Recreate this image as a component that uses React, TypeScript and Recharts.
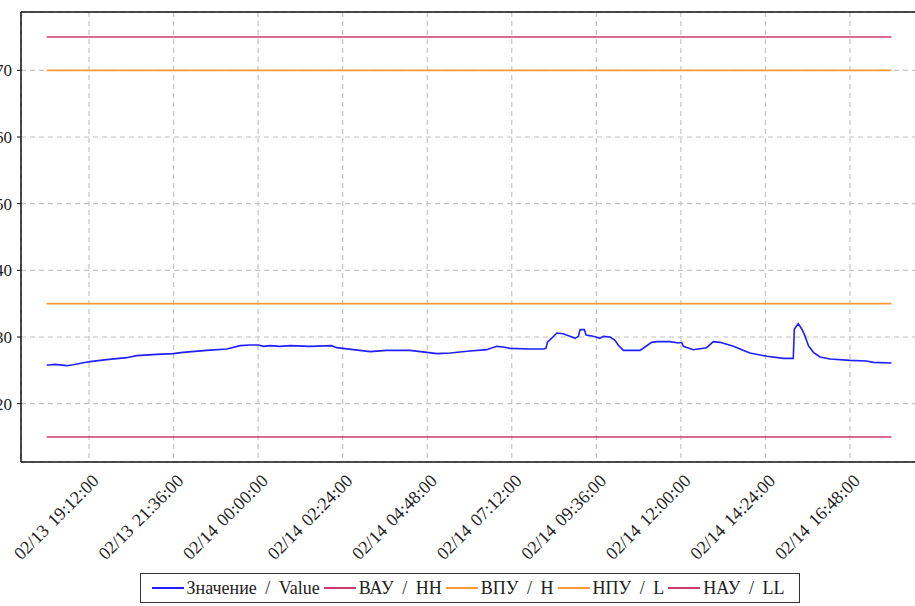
import { CartesianGrid, Line, LineChart, ReferenceLine, XAxis, YAxis } from 'recharts';

// hours since 02/13 00:00
const times = [
  18.0, 18.06, 18.23, 18.57, 18.75, 19.04, 19.23, 19.7, 20.27, 20.55, 21.12, 21.59, 21.87, 22.54,
  23.11, 23.49, 23.77, 24.01, 24.15, 24.34, 24.62, 24.91, 25.47, 26.09, 26.23, 26.7, 27.18, 27.65,
  28.31, 28.79, 29.07, 29.45, 30.01, 30.49, 30.77, 30.96, 31.15, 31.72, 32.1, 32.17, 32.21, 32.48,
  32.66, 32.85, 33.0, 33.09, 33.14, 33.26, 33.31, 33.51, 33.7, 33.8, 33.99, 34.13, 34.22, 34.37,
  34.84, 34.98, 35.17, 35.31, 35.69, 35.93, 36.02, 36.07, 36.35, 36.73, 36.92, 37.11, 37.49, 37.87,
  37.96, 38.44, 38.91, 39.19, 39.22, 39.33, 39.43, 39.52, 39.62, 39.76, 39.95, 40.23, 40.8, 41.27,
  41.46, 41.98,
];
const values = [
  25.8, 25.8, 25.9, 25.7, 25.85, 26.15, 26.3, 26.6, 26.9, 27.2, 27.4, 27.5, 27.7, 28.0,
  28.2, 28.7, 28.8, 28.8, 28.6, 28.7, 28.6, 28.7, 28.6, 28.7, 28.4, 28.1, 27.8, 28.0,
  28.0, 27.7, 27.5, 27.6, 27.9, 28.1, 28.6, 28.5, 28.3, 28.2, 28.2, 28.3, 29.2, 30.6,
  30.5, 30.1, 29.8, 30.1, 31.1, 31.1, 30.3, 30.1, 29.8, 30.1, 30.0, 29.5, 28.8, 28.0,
  28.0, 28.5, 29.2, 29.3, 29.3, 29.1, 29.2, 28.6, 28.1, 28.4, 29.3, 29.2, 28.6, 27.8,
  27.6, 27.1, 26.8, 26.8, 31.2, 32.0, 31.2, 30.2, 28.7, 27.7, 27.0, 26.7, 26.5, 26.4,
  26.2, 26.1,
];

const limitHH = 75;
const limitH = 70;
const limitL = 35;
const limitLL = 15;

const xTicks = [19.2, 21.6, 24, 26.4, 28.8, 31.2, 33.6, 36, 38.4, 40.8];
const yTicks = [20, 30, 40, 50, 60, 70];

const legendItems = [
  { label: 'Значение / Value', color: '#1f1fff' },
  { label: 'ВАУ / НН', color: '#cf3a6c' },
  { label: 'ВПУ / Н', color: '#f89a36' },
  { label: 'НПУ / L', color: '#f89a36' },
  { label: 'НАУ / LL', color: '#cf3a6c' },
];

const rows = times.map((t, i) => ({
  t,
  value: values[i],
  hh: limitHH,
  h: limitH,
  l: limitL,
  ll: limitLL,
}));

const FONT = '"Liberation Serif", "DejaVu Serif", serif';
const X_MIN = 17.27;
const X_MAX = 42.73;
const Y_MIN = 11.25;
const Y_MAX = 78.75;

function pad(n: number) {
  return n < 10 ? '0' + n : String(n);
}

function fmtTime(h: number): string {
  const mins = Math.round(h * 60);
  const day = 13 + Math.floor(mins / 1440);
  const rem = mins % 1440;
  return `02/${day} ${pad(Math.floor(rem / 60))}:${pad(rem % 60)}:00`;
}

function TimeTick(props: any) {
  const { x, y, payload } = props;
  return (
    <g transform={`translate(${x + 11},${y + 20})`}>
      <text
        textAnchor="end"
        transform="rotate(-45)"
        fontSize={18}
        fontFamily={FONT}
        wordSpacing={2}
        fill="#222"
      >
        {fmtTime(payload.value)}
      </text>
    </g>
  );
}

export default function App() {
  return (
    <div
      style={{
        position: 'fixed',
        left: 0,
        top: 0,
        width: 915,
        height: 606,
        overflow: 'hidden',
        background: '#fff',
      }}
    >
      <div style={{ position: 'absolute', left: -19, top: 0 }}>
        <LineChart width={937} height={572} data={rows} margin={{ top: 12, right: 0, bottom: 0, left: 0 }}>
          <CartesianGrid stroke="#c4c4c4" strokeDasharray="5 4" strokeWidth={1.2} />
          <XAxis
            dataKey="t"
            type="number"
            domain={[X_MIN, X_MAX]}
            ticks={xTicks}
            height={110}
            tickSize={0}
            tickMargin={0}
            tick={<TimeTick />}
            axisLine={{ stroke: '#111', strokeWidth: 1.5 }}
            allowDataOverflow
          />
          <YAxis
            type="number"
            domain={[Y_MIN, Y_MAX]}
            ticks={yTicks}
            width={40}
            tickSize={4}
            tickMargin={5}
            tick={{ fontSize: 17, fontFamily: FONT, fill: '#222' }}
            tickLine={{ stroke: '#111' }}
            axisLine={{ stroke: '#111', strokeWidth: 1.5 }}
            allowDataOverflow
          />
          <ReferenceLine y={Y_MAX} stroke="#111" strokeWidth={1.5} />
          <ReferenceLine x={X_MAX} stroke="#111" strokeWidth={1.5} />
          <Line dataKey="hh" stroke={legendItems[1].color} strokeWidth={1.6} dot={false} isAnimationActive={false} />
          <Line dataKey="h" stroke={legendItems[2].color} strokeWidth={1.6} dot={false} isAnimationActive={false} />
          <Line dataKey="l" stroke={legendItems[3].color} strokeWidth={1.6} dot={false} isAnimationActive={false} />
          <Line dataKey="ll" stroke={legendItems[4].color} strokeWidth={1.6} dot={false} isAnimationActive={false} />
          <Line
            dataKey="value"
            type="linear"
            stroke={legendItems[0].color}
            strokeWidth={1.6}
            dot={false}
            isAnimationActive={false}
          />
        </LineChart>
      </div>
      <div
        style={{
          position: 'absolute',
          left: 140,
          top: 573,
          width: 660,
          height: 30,
          boxSizing: 'border-box',
          border: '1px solid #333',
          display: 'flex',
          alignItems: 'center',
          justifyContent: 'center',
          fontFamily: FONT,
          fontSize: 18,
          wordSpacing: 4,
          color: '#222',
          whiteSpace: 'nowrap',
          background: '#fff',
        }}
      >
        {legendItems.map((it) => (
          <span key={it.label} style={{ display: 'inline-flex', alignItems: 'center', marginRight: 4 }}>
            <span style={{ display: 'inline-block', width: 32, height: 2, background: it.color, marginRight: 3 }} />
            {it.label}
          </span>
        ))}
      </div>
    </div>
  );
}
